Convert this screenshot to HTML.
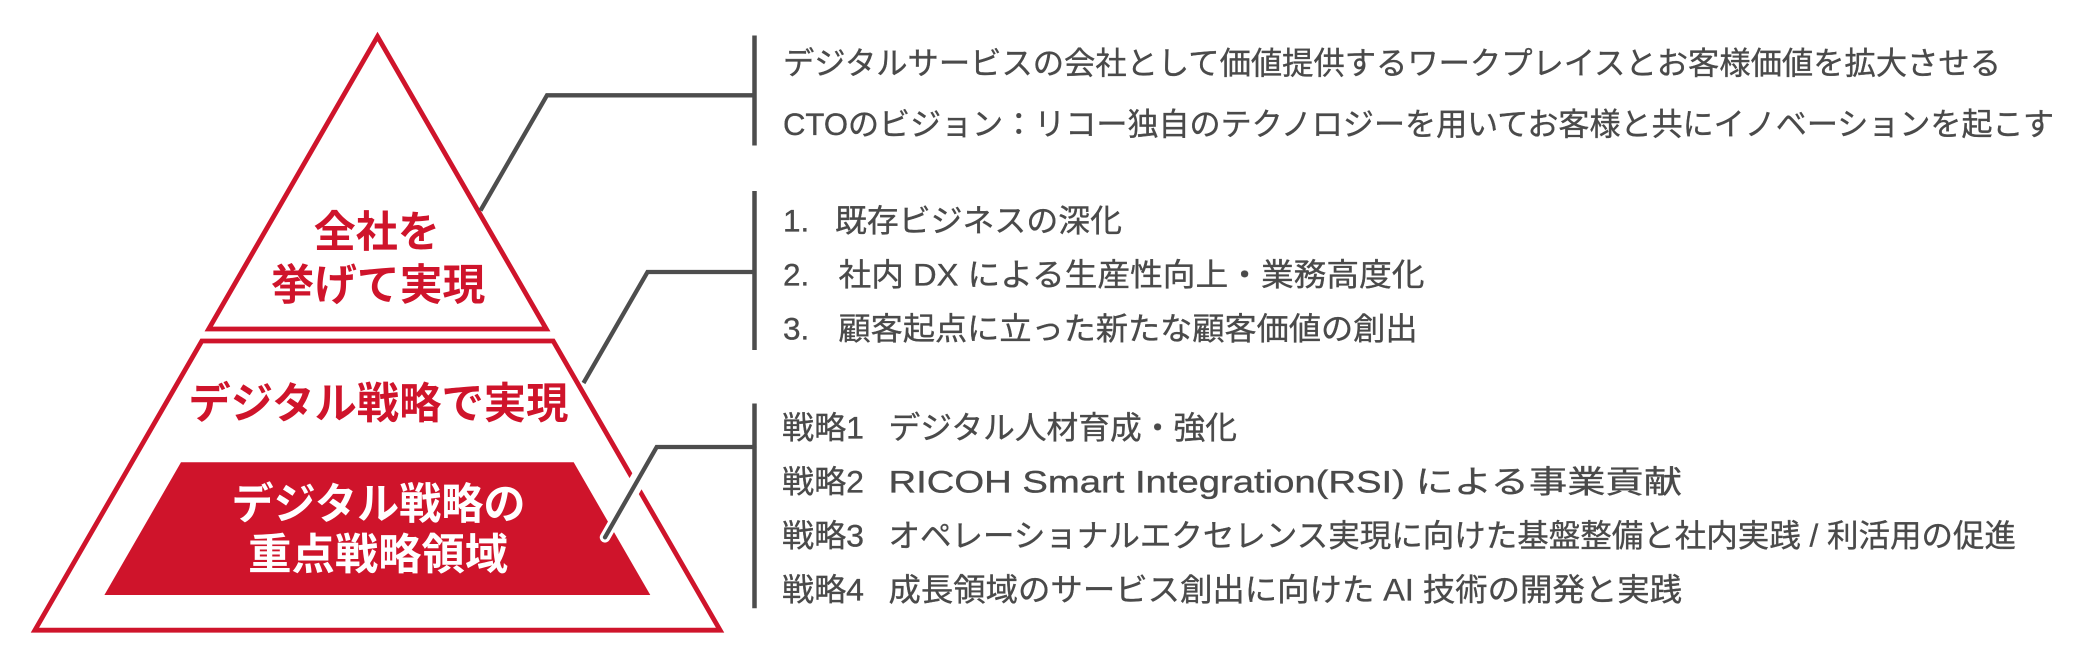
<!DOCTYPE html>
<html>
<head>
<meta charset="utf-8">
<style>
  html, body { margin: 0; padding: 0; background: #ffffff; }
  body { width: 2078px; height: 661px; overflow: hidden; }
  svg { display: block; }
  .r { font-family: "Liberation Sans", "Noto Sans CJK JP", sans-serif; font-size: 31.5px; fill: #4a4a4a; stroke: #4a4a4a; stroke-width: 0.35px; }
  .p { font-family: "Liberation Sans", "Noto Sans CJK JP", sans-serif; font-size: 43px; font-weight: bold; }
</style>
</head>
<body>
<svg width="2078" height="661" viewBox="0 0 2078 661" xmlns="http://www.w3.org/2000/svg">
  <!-- Pyramid outlines -->
  <path d="M377.5,36.5 L546.3,329 L208.7,329 Z" fill="none" stroke="#cf142b" stroke-width="4.8" stroke-linejoin="miter" stroke-miterlimit="10"/>
  <path d="M201.8,341 L553.2,341 L720.1,630.2 L34.9,630.2 Z" fill="none" stroke="#cf142b" stroke-width="4.8" stroke-linejoin="miter" stroke-miterlimit="10"/>
  <!-- Red filled trapezoid -->
  <path d="M181,462.3 L573.7,462.3 L650.3,595 L104.4,595 Z" fill="#cf142b"/>

  <!-- Pyramid labels -->
  <text class="p" fill="#cf142b" x="376.7" y="247" text-anchor="middle" textLength="126" lengthAdjust="spacingAndGlyphs">全社を</text>
  <text class="p" fill="#cf142b" x="378.3" y="300" text-anchor="middle" textLength="214" lengthAdjust="spacingAndGlyphs">挙げて実現</text>
  <text class="p" fill="#cf142b" x="378.4" y="418.6" text-anchor="middle" textLength="380" lengthAdjust="spacingAndGlyphs">デジタル戦略で実現</text>
  <text class="p" fill="#ffffff" x="378.5" y="518.8" text-anchor="middle" textLength="294" lengthAdjust="spacingAndGlyphs">デジタル戦略の</text>
  <text class="p" fill="#ffffff" x="378.2" y="569.5" text-anchor="middle" textLength="260" lengthAdjust="spacingAndGlyphs">重点戦略領域</text>

  <!-- Connector 3 white casing -->
  <path d="M656.7,447 L605,537.3" fill="none" stroke="#ffffff" stroke-width="10.5" stroke-linecap="round"/>
  <path d="M643.2,470.4 L630.6,492.2" fill="none" stroke="#ffffff" stroke-width="16" stroke-linecap="butt"/>

  <!-- Vertical bars -->
  <line x1="754.5" y1="35.5" x2="754.5" y2="145.5" stroke="#4d4d4d" stroke-width="4.5"/>
  <line x1="754.5" y1="191" x2="754.5" y2="350" stroke="#4d4d4d" stroke-width="4.5"/>
  <line x1="754.5" y1="403.5" x2="754.5" y2="608.3" stroke="#4d4d4d" stroke-width="4.5"/>

  <!-- Connectors -->
  <polyline points="754.5,95.3 547,95.3 480.5,210.5" fill="none" stroke="#4d4d4d" stroke-width="4.3" stroke-linejoin="miter"/>
  <polyline points="754.5,272 647.5,272 583.5,383" fill="none" stroke="#4d4d4d" stroke-width="4.3" stroke-linejoin="miter"/>
  <polyline points="754.5,447 656.7,447 605,537.3" fill="none" stroke="#4d4d4d" stroke-width="4.3" stroke-linejoin="miter" stroke-linecap="round"/>

  <!-- Right text: block 1 -->
  <text class="r" x="783" y="73.8" textLength="1218" lengthAdjust="spacingAndGlyphs">デジタルサービスの会社として価値提供するワークプレイスとお客様価値を拡大させる</text>
  <text class="r" x="783" y="135" textLength="1271" lengthAdjust="spacingAndGlyphs">CTOのビジョン：リコー独自のテクノロジーを用いてお客様と共にイノベーションを起こす</text>

  <!-- Right text: block 2 -->
  <text class="r" x="783" y="231.6">1.</text>
  <text class="r" x="835" y="231.6" textLength="287" lengthAdjust="spacingAndGlyphs">既存ビジネスの深化</text>
  <text class="r" x="783" y="285.5">2.</text>
  <text class="r" x="838.5" y="285.5" textLength="586" lengthAdjust="spacingAndGlyphs">社内 DX による生産性向上・業務高度化</text>
  <text class="r" x="783" y="339.4">3.</text>
  <text class="r" x="838.5" y="339.4" textLength="579" lengthAdjust="spacingAndGlyphs">顧客起点に立った新たな顧客価値の創出</text>

  <!-- Right text: block 3 -->
  <text class="r" x="782" y="438.5" textLength="82" lengthAdjust="spacingAndGlyphs">戦略1</text>
  <text class="r" x="888.5" y="438.5" textLength="348.5" lengthAdjust="spacingAndGlyphs">デジタル人材育成・強化</text>
  <text class="r" x="782" y="492.7" textLength="82" lengthAdjust="spacingAndGlyphs">戦略2</text>
  <text class="r" x="888.5" y="492.7" textLength="793.5" lengthAdjust="spacingAndGlyphs">RICOH Smart Integration(RSI) による事業貢献</text>
  <text class="r" x="782" y="546.3" textLength="82" lengthAdjust="spacingAndGlyphs">戦略3</text>
  <text class="r" x="888.5" y="546.3" textLength="1127.5" lengthAdjust="spacingAndGlyphs">オペレーショナルエクセレンス実現に向けた基盤整備と社内実践 / 利活用の促進</text>
  <text class="r" x="782" y="600.3" textLength="82" lengthAdjust="spacingAndGlyphs">戦略4</text>
  <text class="r" x="888.5" y="600.3" textLength="793.5" lengthAdjust="spacingAndGlyphs">成長領域のサービス創出に向けた AI 技術の開発と実践</text>
</svg>
</body>
</html>
